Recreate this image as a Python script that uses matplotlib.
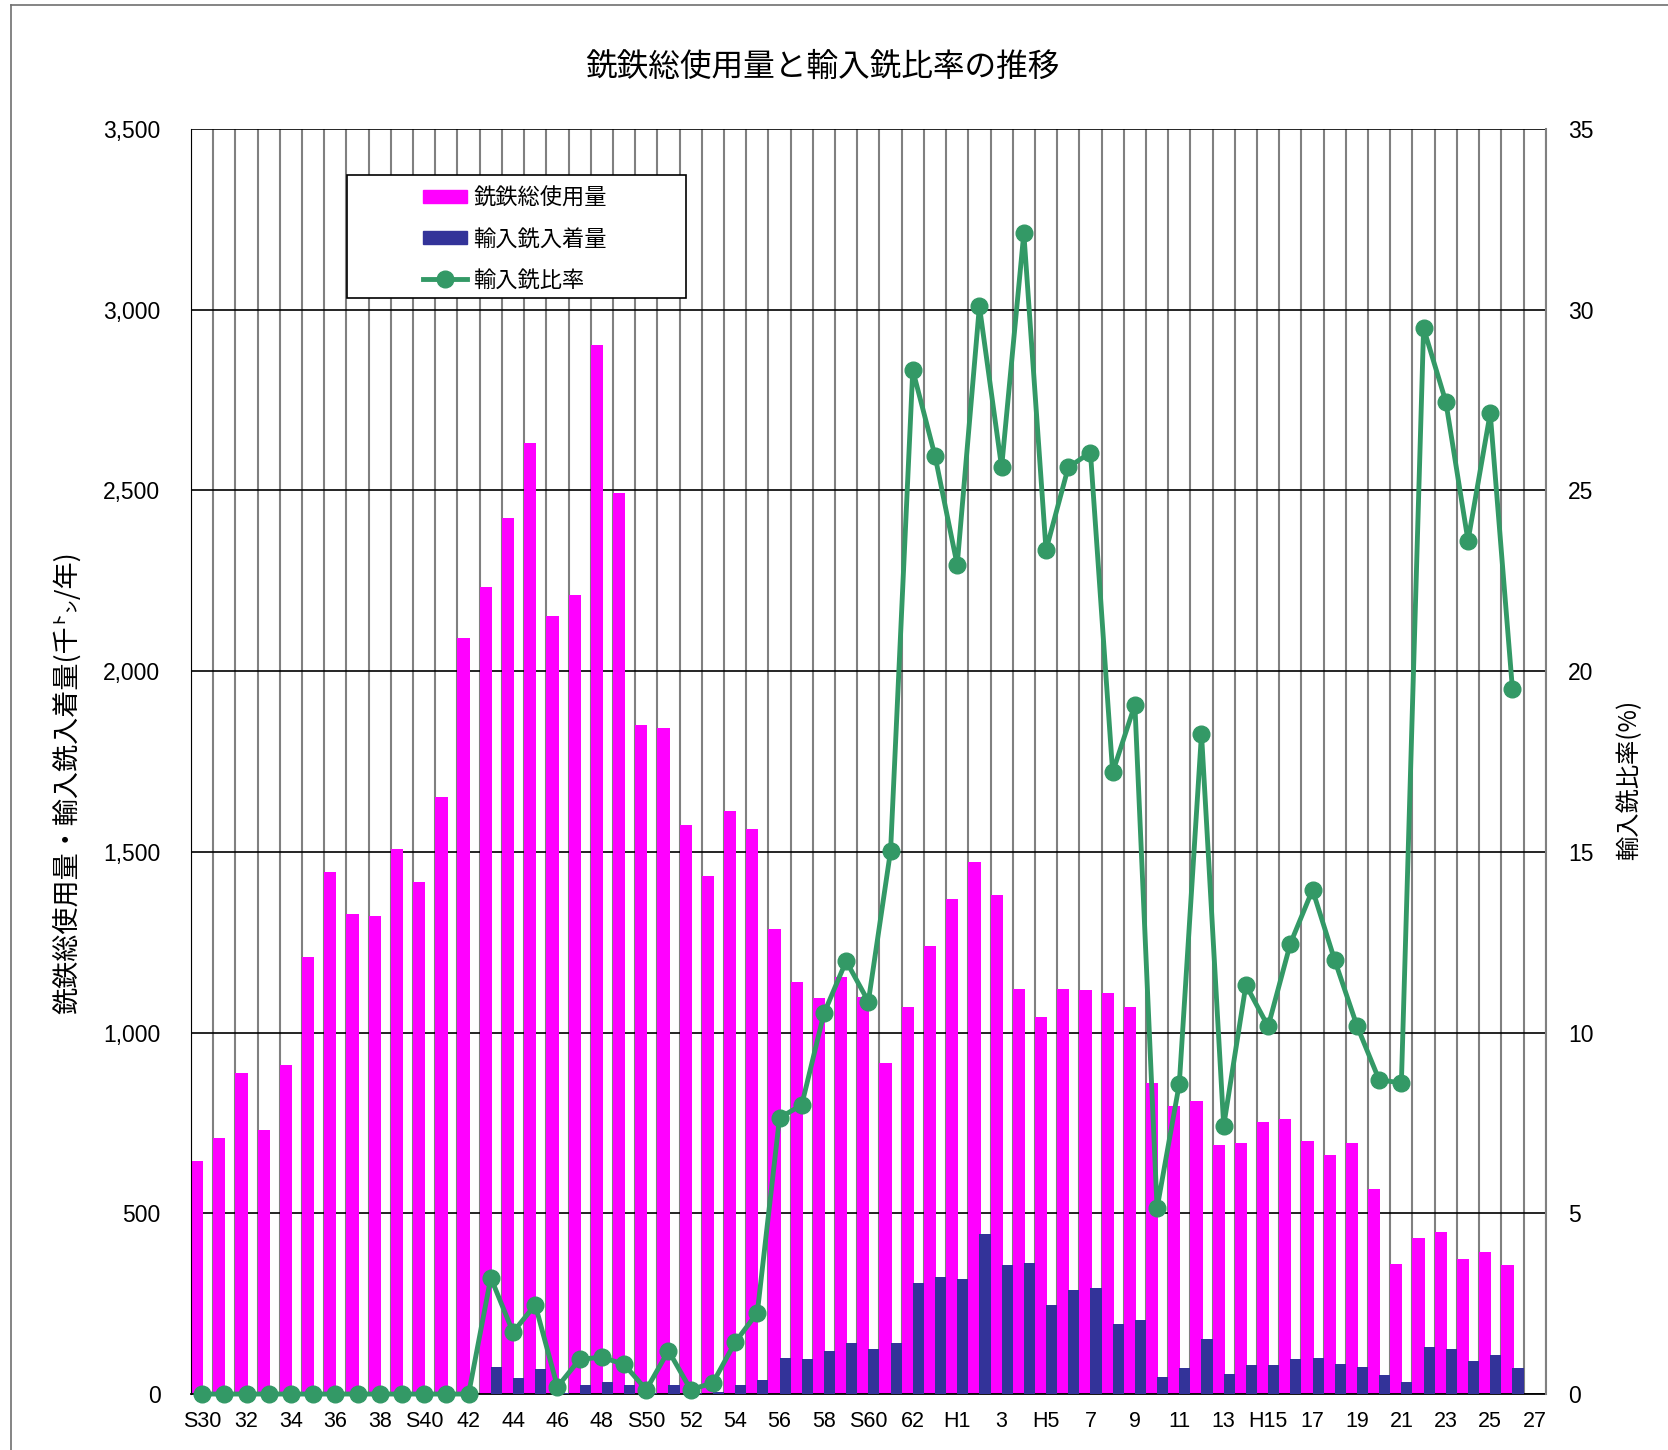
import matplotlib.pyplot as plt
import matplotlib.lines as mlines
import matplotlib.patches as mpatches
import numpy as np

plt.rcParams['font.family'] = ['Liberation Sans', 'Noto Sans CJK JP']
JP = ['Noto Sans CJK JP', 'DejaVu Sans']

# S30 (1955) ... H26 (2014), one value per year
total_use = [645, 709, 889, 730, 910, 1210, 1445, 1328, 1322, 1507,
             1416, 1651, 2093, 2234, 2423, 2632, 2152, 2211, 2903, 2493,
             1852, 1843, 1575, 1434, 1613, 1563, 1288, 1141, 1096, 1155,
             1099, 915, 1071, 1239, 1369, 1472, 1381, 1122, 1042, 1122,
             1119, 1110, 1072, 860, 798, 810, 689, 695, 754, 760,
             701, 662, 695, 567, 359, 433, 447, 374, 392, 356]

imported = [0, 0, 0, 0, 0, 0, 0, 0, 0, 0,
            0, 0, 0, 75, 45, 70, 4, 26, 34, 24,
            3, 26, 3, 5, 26, 38, 101, 96, 119, 142,
            124, 142, 307, 324, 317, 444, 357, 363, 246, 289,
            294, 193, 206, 48, 72, 151, 55, 81, 79, 98,
            101, 83, 75, 54, 34, 130, 125, 91, 109, 73]

ratio = [0, 0, 0, 0, 0, 0, 0, 0, 0, 0,
         0, 0, 0, 3.22, 1.71, 2.47, 0.2, 0.96, 1.02, 0.82,
         0.12, 1.2, 0.12, 0.31, 1.43, 2.25, 7.64, 8.0, 10.53, 11.98,
         10.86, 15.03, 28.33, 25.96, 22.94, 30.1, 25.64, 32.12, 23.35, 25.64,
         26.05, 17.2, 19.07, 5.14, 8.58, 18.27, 7.42, 11.32, 10.17, 12.46,
         13.95, 12.0, 10.19, 8.69, 8.61, 29.49, 27.46, 23.61, 27.14, 19.51]

# x labels every second year, S30 ... H27
tick_labels = ['S30', '32', '34', '36', '38', 'S40', '42', '44', '46', '48',
               'S50', '52', '54', '56', '58', 'S60', '62', 'H1', '3', 'H5',
               '7', '9', '11', '13', 'H15', '17', '19', '21', '23', '25', '27']
n_cat = 61

x = np.arange(len(total_use))

fig = plt.figure(figsize=(16.68, 14.5), dpi=100)
ax = fig.add_axes([0.1145, 0.0386, 0.8122, 0.8724])
ax2 = ax.twinx()

ax.bar(x - 0.225, total_use, width=0.55, color='#FF00FF', zorder=2)
ax.bar(x + 0.25, imported, width=0.5, color='#333399', zorder=3)

ax2.plot(x, ratio, color='#339966', lw=3.5, marker='o', ms=12, clip_on=False, zorder=5)

ax.set_xlim(-0.5, n_cat - 0.5)
ax.set_ylim(0, 3500)
ax2.set_ylim(0, 35)

ax.set_xticks(np.arange(0, n_cat, 2))
ax.set_xticklabels(tick_labels)
ax.set_xticks(np.arange(-0.5, n_cat, 1), minor=True)
ax.set_yticks(np.arange(0, 3501, 500))
ax.set_yticklabels([f'{v:,}' for v in range(0, 3501, 500)])
ax2.set_yticks(np.arange(0, 36, 5))

ax.set_axisbelow(True)
ax.grid(which='minor', axis='x', color='#808080', lw=1.5)
ax.grid(which='major', axis='y', color='black', lw=1.2)

ax.tick_params(axis='x', which='both', length=0, pad=12, labelsize=15.5)
ax.tick_params(axis='y', length=0, pad=22, labelsize=16.5)
ax2.tick_params(axis='y', length=0, pad=16, labelsize=16.5)

for s in ['top', 'right']:
    ax.spines[s].set_visible(False)
for s in ['top', 'left', 'bottom']:
    ax2.spines[s].set_visible(False)
ax.spines['left'].set_color('black')
ax.spines['bottom'].set_color('black')
ax.spines['bottom'].set_linewidth(1.3)
ax2.spines['right'].set_color('#808080')
ax2.spines['right'].set_linewidth(1.5)

# title and axis labels
fig.text(0.493, 0.9538, '銑鉄総使用量と輸入銑比率の推移', fontsize=22.8, family=JP,
         ha='center', va='center')
fig.text(0.040, 0.4600, '銑鉄総使用量・輸入銑入着量(千㌧/年)', fontsize=19.5, family=JP,
         rotation=90, ha='center', va='center')
fig.text(0.977, 0.4625, '輸入銑比率(%)', fontsize=17.5, family=JP,
         rotation=90, ha='center', va='center')

# legend box
box = mpatches.Rectangle((0.208, 0.7945), 0.2032, 0.0848, transform=fig.transFigure,
                         facecolor='white', edgecolor='black', lw=1.2, zorder=10)
ax2.add_patch(box)
box.set_clip_on(False)

handles = [mpatches.Patch(color='#FF00FF'),
           mpatches.Patch(color='#333399'),
           mlines.Line2D([], [], color='#339966', lw=3.5, marker='o', ms=12)]
leg = ax2.legend(handles, ['銑鉄総使用量', '輸入銑入着量', '輸入銑比率'],
                 loc='upper left', bbox_to_anchor=(0.2536, 0.8715),
                 bbox_transform=fig.transFigure, frameon=False,
                 prop={'family': JP, 'size': 16}, handlelength=2.0,
                 handleheight=0.55, handletextpad=0.25, labelspacing=0.82,
                 borderpad=0, borderaxespad=0)
leg.set_zorder(20)

# outer frame of the chart area
fig.add_artist(mlines.Line2D([0.0064, 0.0064], [0, 0.9968], transform=fig.transFigure,
                             color='#707070', lw=1.2))
fig.add_artist(mlines.Line2D([0.0064, 1], [0.9968, 0.9968], transform=fig.transFigure,
                             color='#707070', lw=1.2))

fig.savefig('out.png', dpi=100)
